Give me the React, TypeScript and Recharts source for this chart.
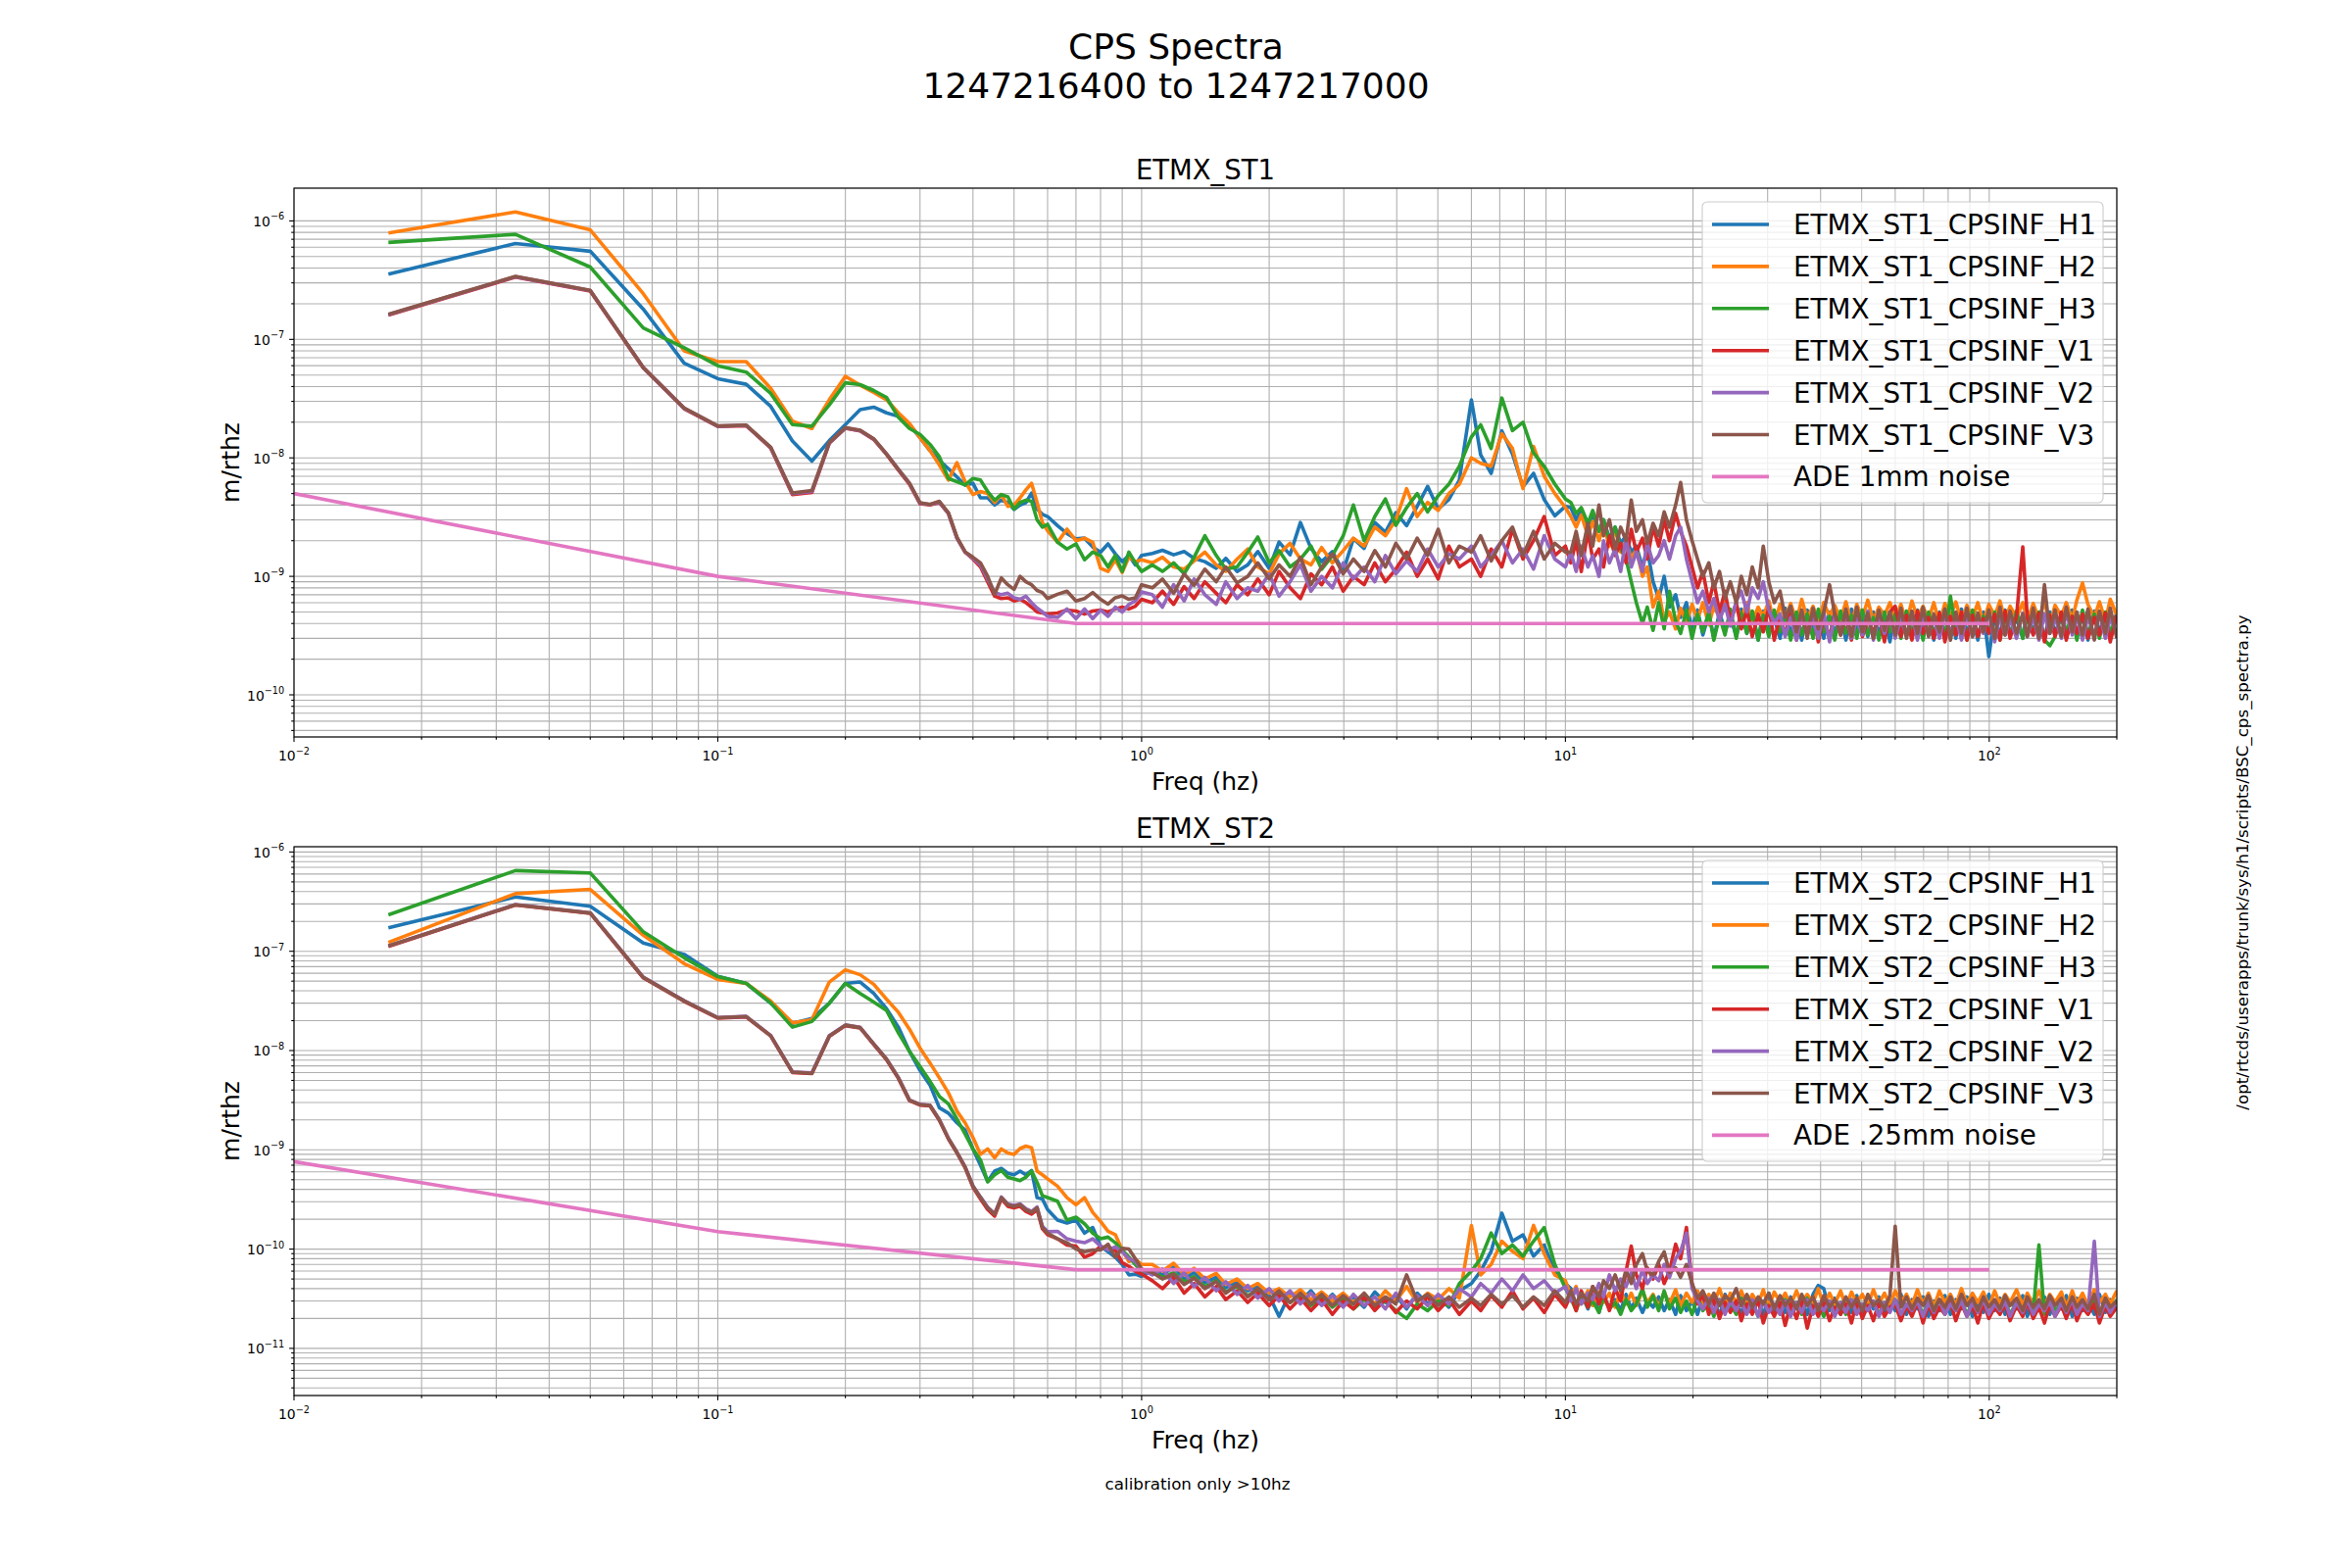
/**
 * CPS Spectra — ETMX ST1 / ST2 capacitive position sensor ASDs.
 * Two log-log panels drawn with Recharts, text and legends overlaid in SVG.
 */

import { LineChart, Line, XAxis, YAxis, CartesianGrid } from "recharts";

// ---- Frequency bins (Hz) ----

const FREQ_LOW = [
  0.0167, 0.0333, 0.05, 0.0667, 0.0833, 0.1, 0.1167, 0.1333, 0.15, 0.1667, 0.1833, 0.2,
  0.2167, 0.2333, 0.25, 0.2667, 0.2833, 0.3, 0.3167, 0.3333, 0.35, 0.3667, 0.3833, 0.4,
  0.4167, 0.4333, 0.45, 0.4667, 0.4833, 0.5, 0.5167, 0.5333, 0.55, 0.5667, 0.5833, 0.6,
  0.6333, 0.6667, 0.7, 0.7333, 0.7667, 0.8, 0.8333, 0.8667, 0.9, 0.9333, 0.9667, 1.0,
];
const FREQ_MID = [
  1.06, 1.12, 1.19, 1.26, 1.33, 1.41, 1.5, 1.58, 1.68, 1.78,
  1.88, 2.0, 2.11, 2.24, 2.37, 2.51, 2.66, 2.82, 2.99, 3.16,
  3.35, 3.55, 3.76, 3.98, 4.22, 4.47, 4.73, 5.01, 5.31, 5.62,
  6.0, 6.31, 6.68, 7.08, 7.5, 7.94, 8.41, 8.91, 9.44, 10.0,
];
const FREQ_HIGH = [
  10.3, 10.6, 10.9, 11.3, 11.6, 12.0, 12.3, 12.7, 13.1, 13.5,
  13.9, 14.3, 14.7, 15.2, 15.6, 16.1, 16.6, 17.1, 17.6, 18.2,
  18.7, 19.3, 19.9, 20.5, 21.1, 21.8, 22.4, 23.1, 23.8, 24.5,
  25.3, 26.0, 26.8, 27.6, 28.5, 29.3, 30.2, 31.1, 32.1, 33.0,
  34.0, 35.1, 36.1, 37.2, 38.4, 39.5, 40.7, 42.0, 43.2, 44.6,
  45.9, 47.3, 48.7, 50.2, 51.7, 53.3, 54.9, 56.6, 58.3, 60.0,
  61.9, 63.8, 65.7, 67.7, 69.8, 71.9, 74.0, 76.3, 78.6, 81.0,
  83.4, 86.0, 88.6, 91.3, 94.0, 96.9, 99.8, 103, 106, 109,
  112, 116, 120, 123, 127, 131, 135, 139, 143, 148,
  152, 157, 161, 166, 171, 177, 182, 188, 193, 200,
];
const FREQ = [...FREQ_LOW, ...FREQ_MID, ...FREQ_HIGH];

// ---- ST1 spectra, units of 1e-10 m/rthz ----

const ST1_UNIT = 1e-10;

const ST1_H1 = [
  3560, 6450, 5550, 1800, 630, 466, 418, 272, 139, 94, 140, 191,
  255, 268, 240, 224, 190, 148, 115, 95, 81, 69, 59, 61,
  46, 46, 40, 44, 42, 36.7, 40, 42, 50.5, 37, 33.4, 32,
  26.8, 23, 20.7, 21, 17.7, 16, 18.8, 15.5, 13.3, 15, 12.5, 15,
  15.6, 16.6, 15.2, 16.2, 14.2, 13.3, 11.7, 14.2, 11.0, 12.5,
  16.2, 11.7, 19.5, 15.2, 28.5, 17.2, 13.3, 16.2, 11.0, 20.8,
  17.2, 28.5, 23.6, 34.5, 26.8, 39, 57.5, 37, 44.5, 65,
  309, 106, 74, 169, 108, 57, 74, 44.5, 32.4, 39,
  38, 30, 36, 27, 33, 24, 30, 21, 26, 19,
  22, 16, 18, 12, 17, 9, 6.5, 10, 5.5, 7,
  4.5, 6.0, 3.6, 5.2, 3.2, 4.8, 3.0, 5.0, 3.4, 4.6,
  3.1, 5.3, 3.3, 4.7, 2.9, 5.1, 3.5, 4.4, 3.0, 5.4,
  3.2, 4.9, 2.9, 5.2, 3.4, 4.5, 3.0, 5.0, 3.3, 4.7,
  2.9, 5.3, 3.4, 4.6, 3.1, 5.0, 3.2, 4.8, 2.8, 5.1,
  3.3, 4.6, 3.0, 5.2, 3.4, 4.5, 2.9, 5.0, 3.2, 4.8,
  3.0, 5.3, 3.3, 4.6, 2.9, 5.0, 2.1, 4.7, 3.1, 5.2,
  3.2, 4.5, 3.0, 5.1, 3.4, 4.8, 2.9, 5.0, 3.3, 4.6,
  3.0, 5.2, 3.2, 4.7, 2.9, 5.1, 3.4, 4.6, 3.1, 5.0,
];
const ST1_H2 = [
  7900, 11900, 8400, 2430, 800, 650, 650, 386, 204, 177, 310, 488,
  410, 357, 310, 240, 195, 148, 115, 87, 65, 91, 63, 49,
  52, 50, 42, 49, 39, 40, 46, 53.7, 61, 42, 28.5, 24.3,
  19.4, 25, 20, 21, 19.4, 11.7, 11, 13.8, 10.8, 14.6, 13.3, 13.8,
  13.0, 14.5, 12.0, 11.5, 13.5, 16.0, 12.5, 11.0, 14.0, 17.0,
  12.0, 10.5, 15.5, 19.0, 14.0, 12.5, 17.5, 13.0, 16.5, 21.0,
  18.0, 26.0, 22.0, 30.0, 55.0, 32.0, 42.0, 36.0, 50.0, 60.0,
  100, 90, 85, 160, 120, 55, 125, 70, 50, 38,
  32, 26, 33, 22, 29, 20, 27, 18, 25, 16,
  20, 14, 17, 10, 12, 5.5, 7.5, 4.2, 5.0, 3.6,
  5.4, 4.0, 5.8, 4.3, 6.0, 3.9, 5.6, 4.5, 6.1, 4.2,
  5.7, 4.4, 6.0, 4.1, 5.5, 4.6, 6.2, 4.0, 5.8, 4.5,
  5.9, 4.2, 6.4, 4.4, 5.6, 4.1, 6.0, 4.6, 5.7, 4.3,
  6.1, 4.0, 5.8, 4.5, 6.3, 4.2, 5.5, 4.7, 6.0, 4.4,
  5.8, 4.1, 6.2, 4.5, 5.6, 4.3, 6.0, 4.0, 5.9, 4.6,
  6.1, 4.2, 5.7, 4.4, 6.0, 4.1, 5.8, 4.6, 6.2, 4.3,
  5.6, 4.5, 6.0, 4.2, 5.9, 4.4, 6.1, 4.0, 5.7, 4.6,
  6.0, 4.3, 6.3, 8.8, 5.8, 4.5, 6.1, 4.2, 6.4, 4.7,
];
const ST1_H3 = [
  6580, 7700, 4080, 1250, 850, 600, 530, 350, 191, 185, 280, 430,
  415, 370, 324, 220, 177, 158, 130, 102, 67, 63, 59, 67,
  65, 52, 44, 49, 47, 37, 42, 44, 43, 30, 26, 27.5,
  19.4, 17, 18.8, 13.8, 16, 15, 12, 15, 11, 16, 13, 11,
  12.5, 11.0, 13.0, 10.5, 14.5, 22.0, 15.0, 11.5, 12.0, 16.0,
  21.5, 13.0, 16.5, 12.0, 14.0, 18.0, 11.5, 15.0, 22.0, 40.0,
  20, 32, 45, 27, 38, 50, 35, 48, 60, 85,
  150, 190, 120, 320, 170, 200, 110, 85, 60, 45,
  42, 34, 38, 28, 36, 24, 30, 20, 26, 17,
  14, 9, 6, 4.0, 5.5, 3.5, 6.0, 3.6, 7.5, 4.2,
  3.3, 5.2, 3.0, 4.8, 3.4, 5.0, 2.9, 4.6, 3.2, 5.3,
  3.0, 4.9, 3.3, 5.1, 2.9, 4.7, 3.1, 5.2, 3.4, 4.5,
  2.9, 5.0, 3.2, 4.8, 3.0, 5.3, 3.4, 4.6, 2.9, 5.1,
  3.3, 4.7, 3.0, 5.2, 3.2, 4.5, 2.9, 5.0, 3.4, 4.8,
  3.0, 5.1, 3.3, 4.6, 2.9, 5.0, 3.2, 4.8, 3.0, 6.8,
  3.3, 4.7, 2.9, 5.2, 3.1, 4.6, 3.4, 5.0, 2.9, 4.8,
  3.2, 5.1, 3.0, 4.7, 3.3, 5.0, 2.9, 2.6, 3.1, 4.9,
  3.4, 4.6, 2.9, 5.2, 3.2, 4.8, 3.0, 5.0, 3.3, 4.7,
];
const ST1_V1 = [
  1600, 3350, 2560, 575, 260, 184, 187, 121, 49, 51, 133, 178,
  169, 143, 107, 79, 60, 41, 40, 42, 34, 21, 16, 14,
  12, 9, 6.8, 6.5, 6.6, 6.2, 6.4, 6.0, 5.5, 5.0, 4.9, 4.8,
  4.9, 5.2, 5.1, 4.8, 5.1, 5.2, 5.0, 5.3, 5.5, 5.3, 5.6, 6.4,
  6.0, 7.5, 5.8, 8.2, 6.5, 9.0, 7.2, 6.0, 8.5, 7.0,
  9.5, 7.0, 11.0, 8.0, 6.5, 10.5, 8.5, 12.0, 7.5, 10.0,
  8.5, 13.0, 9.0, 11.5, 16.0, 10.0, 14.0, 9.5, 18.0, 12.0,
  14.0, 10.0, 17.0, 12.0, 25.0, 14.0, 20.0, 32.0, 15.0, 18.0,
  13, 20, 11, 24, 14, 17, 12, 22, 15, 19,
  13, 25, 16, 21, 14, 26, 18, 30, 20, 34,
  24, 18, 12, 8, 11, 6, 9, 5, 7.5, 4.2,
  6.0, 3.6, 5.2, 3.1, 4.8, 3.4, 5.5, 2.9, 4.6, 3.2,
  5.0, 2.9, 4.7, 3.3, 5.1, 2.8, 4.5, 3.0, 4.9, 3.2,
  4.6, 2.9, 5.2, 3.1, 4.4, 3.3, 4.8, 2.8, 5.0, 5.6,
  3.1, 4.7, 2.9, 5.1, 3.3, 4.5, 3.0, 4.9, 2.8, 4.6,
  3.2, 5.0, 2.9, 4.7, 3.1, 4.4, 3.3, 4.8, 2.9, 5.1,
  3.0, 4.6, 17.7, 4.5, 3.2, 4.9, 2.8, 4.7, 3.1, 5.0,
  2.9, 4.6, 3.3, 4.8, 3.0, 4.5, 3.2, 4.9, 2.8, 4.7,
];
const ST1_V2 = [
  1620, 3380, 2580, 578, 262, 185, 188, 122, 50, 52, 134, 179,
  170, 144, 108, 80, 61, 41.5, 40.5, 42.5, 34, 21, 16, 14.2,
  12.5, 9.5, 7.3, 7.0, 7.2, 6.6, 6.4, 6.8, 6.0, 5.4, 5.0, 4.6,
  4.5, 5.3, 4.4, 5.3, 4.4, 5.2, 4.6, 5.5, 5.0, 5.8, 6.2, 7.4,
  7.0, 5.5, 8.5, 6.2, 9.5, 7.0, 5.8, 9.0, 6.5, 8.0,
  7.5, 10.5, 6.8, 9.0, 12.5, 7.5, 10.0, 8.0, 13.0, 9.5,
  12.0, 9.0, 15.0, 10.5, 13.5, 11.0, 17.0, 12.0, 15.5, 14.0,
  18.0, 12.0, 15.0, 20.0, 13.0, 17.0, 11.5, 22.0, 14.0, 12.0,
  16, 11, 18, 12, 15, 10, 20, 13, 17, 11,
  21, 12, 16, 11, 19, 13, 15, 20, 14, 22,
  26, 14, 9, 6, 7.5, 5, 6.5, 4.2, 5.8, 3.8,
  6.2, 7.5, 5.0, 8.0, 6.5, 9.0, 5.2, 4.0, 4.8, 3.1,
  4.5, 2.9, 4.8, 3.2, 4.4, 3.0, 5.0, 2.8, 4.6, 3.3,
  4.9, 3.0, 4.4, 3.2, 5.1, 2.9, 4.6, 3.3, 4.8, 3.0,
  4.5, 3.1, 5.0, 2.9, 4.7, 3.2, 4.4, 3.0, 4.9, 3.3,
  4.6, 2.9, 4.8, 3.1, 4.5, 3.3, 5.0, 2.8, 4.7, 3.2,
  4.4, 3.0, 4.9, 3.1, 4.6, 2.9, 4.8, 3.3, 4.5, 3.0,
  5.0, 3.2, 4.7, 2.9, 4.6, 3.1, 4.9, 3.0, 4.5, 3.3,
];
const ST1_V3 = [
  1630, 3400, 2590, 580, 263, 186, 189, 123, 50.5, 53, 135, 180,
  171, 145, 108, 80, 61, 41.8, 40.5, 43, 34.5, 21.4, 16.1, 14.5,
  13, 10, 7.06, 9.7, 8.5, 7.76, 10, 9, 8.5, 7.6, 7.3, 6.5,
  7.06, 7.5, 6.2, 6.5, 7.3, 6.4, 5.83, 6.6, 6.84, 6.4, 6.6, 8.5,
  8.0, 9.5, 7.2, 10.5, 8.4, 11.5, 9.0, 12.0, 8.8, 10.0,
  13.0, 9.5, 12.5, 10.0, 14.5, 8.5, 12.0, 15.5, 10.5, 14.0,
  11.0, 16.5, 12.0, 19.0, 14.0, 21.0, 15.0, 25.0, 13.0, 18.0,
  16.0, 22.0, 13.5, 20.0, 26.0, 15.0, 24.0, 14.0, 19.0, 16.0,
  16, 24, 15, 28, 18, 40, 22, 30, 17, 26,
  20, 44, 24, 30, 19, 28, 22, 35, 26, 40,
  62, 30, 20, 14, 10, 13, 8, 11, 6.5, 9,
  6, 10, 7, 12, 8, 18, 9, 6, 7.5, 4.5,
  5.6, 3.4, 5.2, 3.0, 5.4, 3.6, 5.0, 8.5, 4.8, 3.2,
  5.3, 3.1, 5.5, 3.4, 4.9, 3.0, 5.2, 3.5, 5.0, 3.2,
  5.4, 3.0, 5.1, 3.3, 5.5, 3.1, 4.8, 3.4, 5.3, 2.9,
  5.0, 3.3, 5.4, 3.1, 4.9, 3.4, 5.2, 3.0, 5.5, 3.2,
  5.1, 3.3, 4.8, 3.1, 5.4, 3.0, 8.5, 3.3, 5.2, 3.1,
  5.5, 3.4, 5.0, 3.2, 5.3, 2.9, 5.1, 3.3, 5.4, 3.0,
];

// ---- ST2 spectra, units of 1e-12 m/rthz ----

const ST2_UNIT = 1e-12;

const ST2_H1 = [
  172000, 353000, 284000, 121000, 93000, 56000, 47500, 30000, 18800, 21000, 30000, 47500,
  49000, 37600, 26500, 17200, 9800, 6300, 4500, 2650, 2340, 1870, 1580, 1020,
  700, 480, 610, 650, 580, 560, 610, 560, 620, 330, 320, 250,
  196, 183, 196, 145, 165, 107, 94, 83, 70, 55, 56, 53,
  62, 55, 66, 50, 58, 46, 52, 41, 47, 38,
  42, 34, 21, 36, 30, 38, 28, 35, 27, 33,
  26, 37, 29, 34, 25, 36, 28, 33, 26, 38,
  45, 60, 95, 230, 120, 139, 85, 110, 60, 45,
  40, 27, 36, 25, 34, 23, 33, 26, 31, 24,
  35, 25, 32, 23, 30, 26, 33, 24, 31, 22,
  34, 24, 30, 22, 33, 25, 31, 21, 35, 26,
  30, 22, 34, 25, 32, 21, 36, 24, 30, 23,
  33, 25, 31, 22, 35, 43, 40, 24, 32, 22,
  30, 23, 34, 21, 31, 25, 33, 22, 30, 24,
  35, 22, 31, 25, 33, 21, 30, 24, 34, 22,
  31, 25, 33, 21, 30, 23, 35, 24, 32, 22,
  30, 25, 34, 21, 31, 24, 33, 22, 30, 25,
  34, 21, 32, 24, 30, 22, 35, 23, 31, 24,
];
const ST2_H2 = [
  123000, 381000, 420000, 145000, 75000, 52000, 47500, 31500, 19000, 20400, 49000, 65000,
  58000, 46500, 33000, 24300, 16400, 10600, 7500, 5300, 3750, 2450, 1870, 1330,
  900, 1020, 830, 1020, 930, 900, 1030, 1090, 1050, 610, 560, 510,
  430, 330, 280, 330, 234, 190, 151, 140, 98, 75, 79, 70,
  70, 60, 72, 55, 64, 50, 57, 44, 50, 40,
  45, 36, 40, 33, 39, 31, 37, 30, 36, 29,
  35, 28, 38, 30, 42, 29, 36, 31, 40, 32,
  173, 55, 70, 120, 95, 80, 173, 90, 55, 48,
  34, 42, 28, 38, 27, 37, 29, 36, 26, 38,
  28, 36, 27, 38, 29, 35, 26, 37, 28, 39,
  27, 36, 29, 38, 26, 35, 28, 40, 27, 36,
  29, 38, 27, 35, 28, 39, 26, 37, 29, 36,
  27, 38, 28, 35, 29, 40, 27, 36, 28, 38,
  26, 37, 29, 35, 27, 39, 28, 36, 27, 38,
  29, 35, 27, 39, 28, 36, 26, 38, 29, 35,
  27, 40, 28, 36, 29, 37, 26, 38, 28, 35,
  29, 39, 27, 36, 28, 38, 27, 35, 29, 37,
  26, 38, 28, 36, 27, 39, 29, 35, 28, 38,
];
const ST2_H3 = [
  233000, 650000, 615000, 157000, 86000, 55500, 47500, 30200, 17200, 19600, 30000, 47500,
  37600, 30800, 25400, 15100, 9800, 6900, 4900, 3450, 2900, 2040, 1440, 1020,
  790, 477, 560, 620, 530, 510, 490, 530, 610, 470, 345, 330,
  303, 196, 210, 180, 145, 127, 132, 116, 98, 83, 70, 59,
  60, 52, 58, 47, 53, 42, 48, 37, 42, 34,
  39, 31, 36, 29, 34, 27, 33, 26, 32, 25,
  31, 26, 30, 24, 20, 28, 24, 30, 27, 45,
  60, 80, 145, 90, 110, 85, 120, 165, 70, 40,
  32, 24, 34, 26, 30, 23, 33, 25, 29, 22,
  31, 24, 28, 40, 26, 34, 24, 38, 25, 32,
  23, 30, 22, 33, 24, 29, 21, 31, 25, 28,
  22, 32, 24, 29, 21, 30, 25, 28, 22, 31,
  24, 29, 22, 32, 23, 28, 21, 30, 24, 29,
  22, 31, 23, 28, 25, 30, 22, 29, 24, 31,
  21, 28, 24, 30, 22, 29, 25, 31, 23, 28,
  24, 30, 22, 29, 23, 31, 21, 28, 24, 30,
  22, 29, 24, 31, 23, 110, 22, 30, 24, 28,
  23, 31, 22, 29, 24, 30, 21, 28, 23, 31,
];
const ST2_V1 = [
  112000, 292000, 241000, 54000, 31300, 21200, 21800, 14000, 6000, 5850, 13900, 17800,
  16900, 11500, 8100, 5250, 3130, 2820, 2770, 1980, 1290, 930, 660, 420,
  320, 250, 215, 320, 270, 260, 270, 240, 225, 250, 160, 140,
  127, 110, 107, 83, 90, 107, 100, 98, 73, 67, 60, 56,
  48, 40, 52, 36, 45, 33, 42, 31, 38, 29,
  36, 27, 34, 25, 32, 24, 31, 22, 30, 25,
  33, 24, 31, 23, 30, 25, 33, 24, 31, 22,
  30, 24, 34, 26, 38, 25, 32, 23, 35, 26,
  35, 24, 38, 26, 42, 28, 36, 24, 40, 30,
  60, 107, 55, 40, 65, 50, 70, 45, 60, 112,
  80, 165, 45, 28, 35, 22, 31, 20, 29, 23,
  30, 19, 28, 22, 31, 18, 27, 21, 29, 17,
  28, 20, 30, 16, 27, 21, 29, 19, 26, 22,
  28, 18, 30, 20, 27, 19, 29, 21, 26, 28,
  19, 27, 21, 29, 18, 28, 20, 26, 22, 29,
  19, 28, 21, 27, 18, 29, 20, 26, 22, 28,
  19, 27, 21, 29, 20, 26, 18, 28, 21, 27,
  20, 29, 19, 26, 22, 28, 18, 27, 21, 26,
];
const ST2_V2 = [
  113500, 295000, 244000, 54800, 31800, 21500, 22100, 14200, 6100, 5950, 14100, 18100,
  17100, 11700, 8250, 5350, 3180, 2870, 2820, 2010, 1310, 945, 675, 435,
  335, 265, 228, 335, 285, 275, 285, 255, 240, 265, 170, 150,
  151, 127, 120, 116, 127, 107, 98, 105, 94, 80, 75, 62,
  55, 63, 45, 58, 42, 52, 38, 47, 35, 43,
  32, 40, 30, 38, 28, 36, 27, 34, 26, 35,
  27, 33, 25, 36, 26, 34, 27, 35, 28, 40,
  33, 45, 36, 50, 38, 55, 40, 48, 36, 42,
  30, 40, 28, 36, 31, 45, 33, 55, 38, 50,
  42, 58, 40, 62, 45, 55, 48, 70, 52, 80,
  95, 145, 40, 30, 25, 32, 23, 31, 22, 30,
  24, 29, 22, 31, 21, 30, 23, 28, 22, 30,
  21, 29, 23, 31, 22, 28, 24, 30, 21, 29,
  23, 31, 22, 28, 24, 30, 21, 29, 23, 31,
  22, 28, 24, 30, 21, 29, 23, 31, 22, 28,
  24, 30, 21, 29, 23, 31, 22, 28, 24, 30,
  21, 29, 23, 31, 22, 28, 24, 30, 21, 29,
  23, 31, 22, 28, 24, 120, 21, 29, 23, 30,
];
const ST2_V3 = [
  113000, 294000, 243000, 54500, 31600, 21400, 22000, 14100, 6070, 5900, 14000, 18000,
  17000, 11600, 8200, 5300, 3160, 2850, 2800, 2000, 1300, 940, 670, 430,
  330, 260, 224, 330, 280, 270, 280, 250, 234, 260, 165, 145,
  127, 116, 100, 94, 98, 98, 112, 83, 102, 100, 80, 63,
  58, 50, 56, 44, 51, 40, 47, 36, 44, 33,
  40, 31, 38, 29, 36, 28, 35, 27, 34, 28,
  36, 27, 33, 28, 55, 30, 35, 27, 33, 26,
  32, 27, 35, 28, 34, 26, 33, 27, 38, 29,
  38, 28, 36, 30, 42, 33, 48, 40, 55, 38,
  62, 45, 70, 90, 60, 55, 75, 94, 58, 65,
  52, 70, 45, 32, 38, 28, 36, 27, 34, 30,
  40, 27, 35, 26, 33, 28, 36, 25, 34, 27,
  32, 25, 35, 27, 33, 24, 34, 26, 31, 25,
  33, 26, 32, 24, 35, 27, 31, 25, 34, 170,
  26, 33, 25, 32, 27, 34, 24, 31, 26, 33,
  25, 35, 27, 32, 24, 33, 26, 31, 25, 34,
  27, 32, 24, 33, 26, 31, 25, 34, 27, 32,
  24, 33, 26, 31, 25, 35, 22, 32, 26, 30,
];

// ---- ADE noise references ----

const ADE_FREQ = [0.01, 0.1, 0.7, 100];
const ST1_ADE = [50, 10, 4, 4]; // 1e-10 m/rthz
const ST2_ADE = [760, 150, 62, 62]; // 1e-12 m/rthz

// ---- Labels, colours, axes ----

const ST1_LABELS = [
  "ETMX_ST1_CPSINF_H1", "ETMX_ST1_CPSINF_H2", "ETMX_ST1_CPSINF_H3",
  "ETMX_ST1_CPSINF_V1", "ETMX_ST1_CPSINF_V2", "ETMX_ST1_CPSINF_V3", "ADE 1mm noise",
];
const ST2_LABELS = [
  "ETMX_ST2_CPSINF_H1", "ETMX_ST2_CPSINF_H2", "ETMX_ST2_CPSINF_H3",
  "ETMX_ST2_CPSINF_V1", "ETMX_ST2_CPSINF_V2", "ETMX_ST2_CPSINF_V3", "ADE .25mm noise",
];
const COLORS = ["#1f77b4", "#ff7f0e", "#2ca02c", "#d62728", "#9467bd", "#8c564b", "#e377c2"];

const X_DOMAIN: [number, number] = [0.01, 200];
const X_EXPONENTS = [-2, -1, 0, 1, 2];
const ST1_Y_DOMAIN: [number, number] = [4.41e-11, 1.89e-6];
const ST1_Y_EXPONENTS = [-11, -10, -9, -8, -7, -6];
const ST2_Y_DOMAIN: [number, number] = [3.35e-12, 1.13e-6];
const ST2_Y_EXPONENTS = [-12, -11, -10, -9, -8, -7, -6];
const STEPS = [1, 2, 3, 4, 5, 6, 7, 8, 9];

const FONT = "DejaVu Sans";
const GRID = "#b0b0b0";
const LW = 3.6;

// ---- Helpers ----

function logTicks(domain: [number, number], exps: number[]): number[] {
  const out: number[] = [];
  for (const e of exps) {
    for (const m of STEPS) {
      const v = m * Math.pow(10, e);
      if (v >= domain[0] * 0.999 && v <= domain[1] * 1.001) out.push(v);
    }
  }
  return out;
}

function isDecade(v: number) {
  const l = Math.log10(v);
  return Math.abs(l - Math.round(l)) < 1e-6;
}

function expLabel(v: number) {
  const e = Math.round(Math.log10(v));
  return e < 0 ? `\u2212${-e}` : String(e);
}

function XTick(props: any) {
  const { x, y, payload } = props;
  const major = isDecade(payload.value);
  return (
    <g>
      <line x1={x} x2={x} y1={y} y2={y + (major ? 4.9 : 2.8)} stroke="#000" strokeWidth={1.1} />
      {major && (
        <text x={x} y={y + 24} textAnchor="middle" fontFamily={FONT} fontSize={13.9} fill="#000">
          10<tspan dy={-6.5} fontSize={9.7}>{expLabel(payload.value)}</tspan>
        </text>
      )}
    </g>
  );
}

function YTick(props: any) {
  const { x, y, payload } = props;
  const major = isDecade(payload.value);
  return (
    <g>
      <line x1={x - (major ? 4.9 : 2.8)} x2={x} y1={y} y2={y} stroke="#000" strokeWidth={1.1} />
      {major && (
        <text x={x - 9.8} y={y + 5.5} textAnchor="end" fontFamily={FONT} fontSize={13.9} fill="#000">
          10<tspan dy={-6.5} fontSize={9.7}>{expLabel(payload.value)}</tspan>
        </text>
      )}
    </g>
  );
}

// ---- Panel ----

interface PanelProps {
  top: number;
  series: number[][];
  ade: number[];
  unit: number;
  labels: string[];
  yDomain: [number, number];
  yExponents: number[];
}

function Panel({ top, series, ade, unit, labels, yDomain, yExponents }: PanelProps) {
  const xTicks = logTicks(X_DOMAIN, X_EXPONENTS);
  const yTicks = logTicks(yDomain, yExponents);
  const lines = series.map((vals) => FREQ.map((f, i) => ({ f, v: vals[i] * unit })));
  lines.push(ADE_FREQ.map((f, i) => ({ f, v: ade[i] * unit })));

  return (
    <div style={{ position: "absolute", left: 0, top, width: 2400, height: 800 }}>
      <LineChart width={2400} height={800} margin={{ top: 192, right: 240, bottom: 8, left: 220 }}>
        <CartesianGrid stroke={GRID} strokeWidth={1.1} />
        <XAxis
          type="number"
          dataKey="f"
          scale="log"
          domain={X_DOMAIN}
          allowDataOverflow
          ticks={xTicks}
          interval={0}
          tickSize={0}
          tickMargin={0}
          tickLine={false}
          axisLine={false}
          height={40}
          tick={(p: any) => <XTick {...p} />}
        />
        <YAxis
          type="number"
          scale="log"
          domain={yDomain}
          allowDataOverflow
          ticks={yTicks}
          interval={0}
          tickSize={0}
          tickMargin={0}
          tickLine={false}
          axisLine={false}
          width={80}
          tick={(p: any) => <YTick {...p} />}
        />
        {lines.map((data, i) => (
          <Line
            key={labels[i]}
            name={labels[i]}
            data={data}
            dataKey="v"
            type="linear"
            stroke={COLORS[i]}
            strokeWidth={LW}
            strokeLinejoin="round"
            dot={false}
            activeDot={false}
            isAnimationActive={false}
          />
        ))}
      </LineChart>
    </div>
  );
}

function LegendBox({ x, y, labels }: { x: number; y: number; labels: string[] }) {
  return (
    <g>
      <rect x={x} y={y} width={409} height={307} rx={5} fill="#fff" fillOpacity={0.8} stroke="#cccccc" strokeWidth={1.1} />
      {labels.map((label, i) => {
        const cy = y + 23 + i * 42.9;
        return (
          <g key={label}>
            <line x1={x + 10} x2={x + 68} y1={cy} y2={cy} stroke={COLORS[i]} strokeWidth={LW} />
            <text x={x + 93} y={cy + 10} fontFamily={FONT} fontSize={27.8} fill="#000">{label}</text>
          </g>
        );
      })}
    </g>
  );
}

export default function App() {
  return (
    <div style={{ position: "absolute", left: 0, top: 0, width: 2400, height: 1600, background: "#fff", overflow: "hidden" }}>
      <Panel
        top={0}
        series={[ST1_H1, ST1_H2, ST1_H3, ST1_V1, ST1_V2, ST1_V3]}
        ade={ST1_ADE}
        unit={ST1_UNIT}
        labels={ST1_LABELS}
        yDomain={ST1_Y_DOMAIN}
        yExponents={ST1_Y_EXPONENTS}
      />
      <Panel
        top={672}
        series={[ST2_H1, ST2_H2, ST2_H3, ST2_V1, ST2_V2, ST2_V3]}
        ade={ST2_ADE}
        unit={ST2_UNIT}
        labels={ST2_LABELS}
        yDomain={ST2_Y_DOMAIN}
        yExponents={ST2_Y_EXPONENTS}
      />
      <svg width={2400} height={1600} style={{ position: "absolute", left: 0, top: 0, pointerEvents: "none" }}>
        <g fontFamily={FONT} fill="#000">
          <text x={1200} y={60} textAnchor="middle" fontSize={36}>CPS Spectra</text>
          <text x={1200} y={99.5} textAnchor="middle" fontSize={36}>1247216400 to 1247217000</text>

          <text x={1230} y={183} textAnchor="middle" fontSize={27.5}>ETMX_ST1</text>
          <text x={1230} y={855} textAnchor="middle" fontSize={27.5}>ETMX_ST2</text>

          <text x={1230} y={806} textAnchor="middle" fontSize={25}>Freq (hz)</text>
          <text x={1230} y={1478} textAnchor="middle" fontSize={25}>Freq (hz)</text>

          <text x={244} y={472} textAnchor="middle" fontSize={25} transform="rotate(-90 244 472)">m/rthz</text>
          <text x={244} y={1144} textAnchor="middle" fontSize={25} transform="rotate(-90 244 1144)">m/rthz</text>

          <text x={2294} y={880} textAnchor="middle" fontSize={16.7} transform="rotate(-90 2294 880)">
            /opt/rtcds/userapps/trunk/sys/h1/scripts/BSC_cps_spectra.py
          </text>
          <text x={1222} y={1520} textAnchor="middle" fontSize={16.7}>calibration only &gt;10hz</text>
        </g>

        <rect x={300} y={192} width={1860} height={560} fill="none" stroke="#000" strokeWidth={1.1} />
        <rect x={300} y={864} width={1860} height={560} fill="none" stroke="#000" strokeWidth={1.1} />

        <LegendBox x={1737} y={206} labels={ST1_LABELS} />
        <LegendBox x={1737} y={878} labels={ST2_LABELS} />
      </svg>
    </div>
  );
}
